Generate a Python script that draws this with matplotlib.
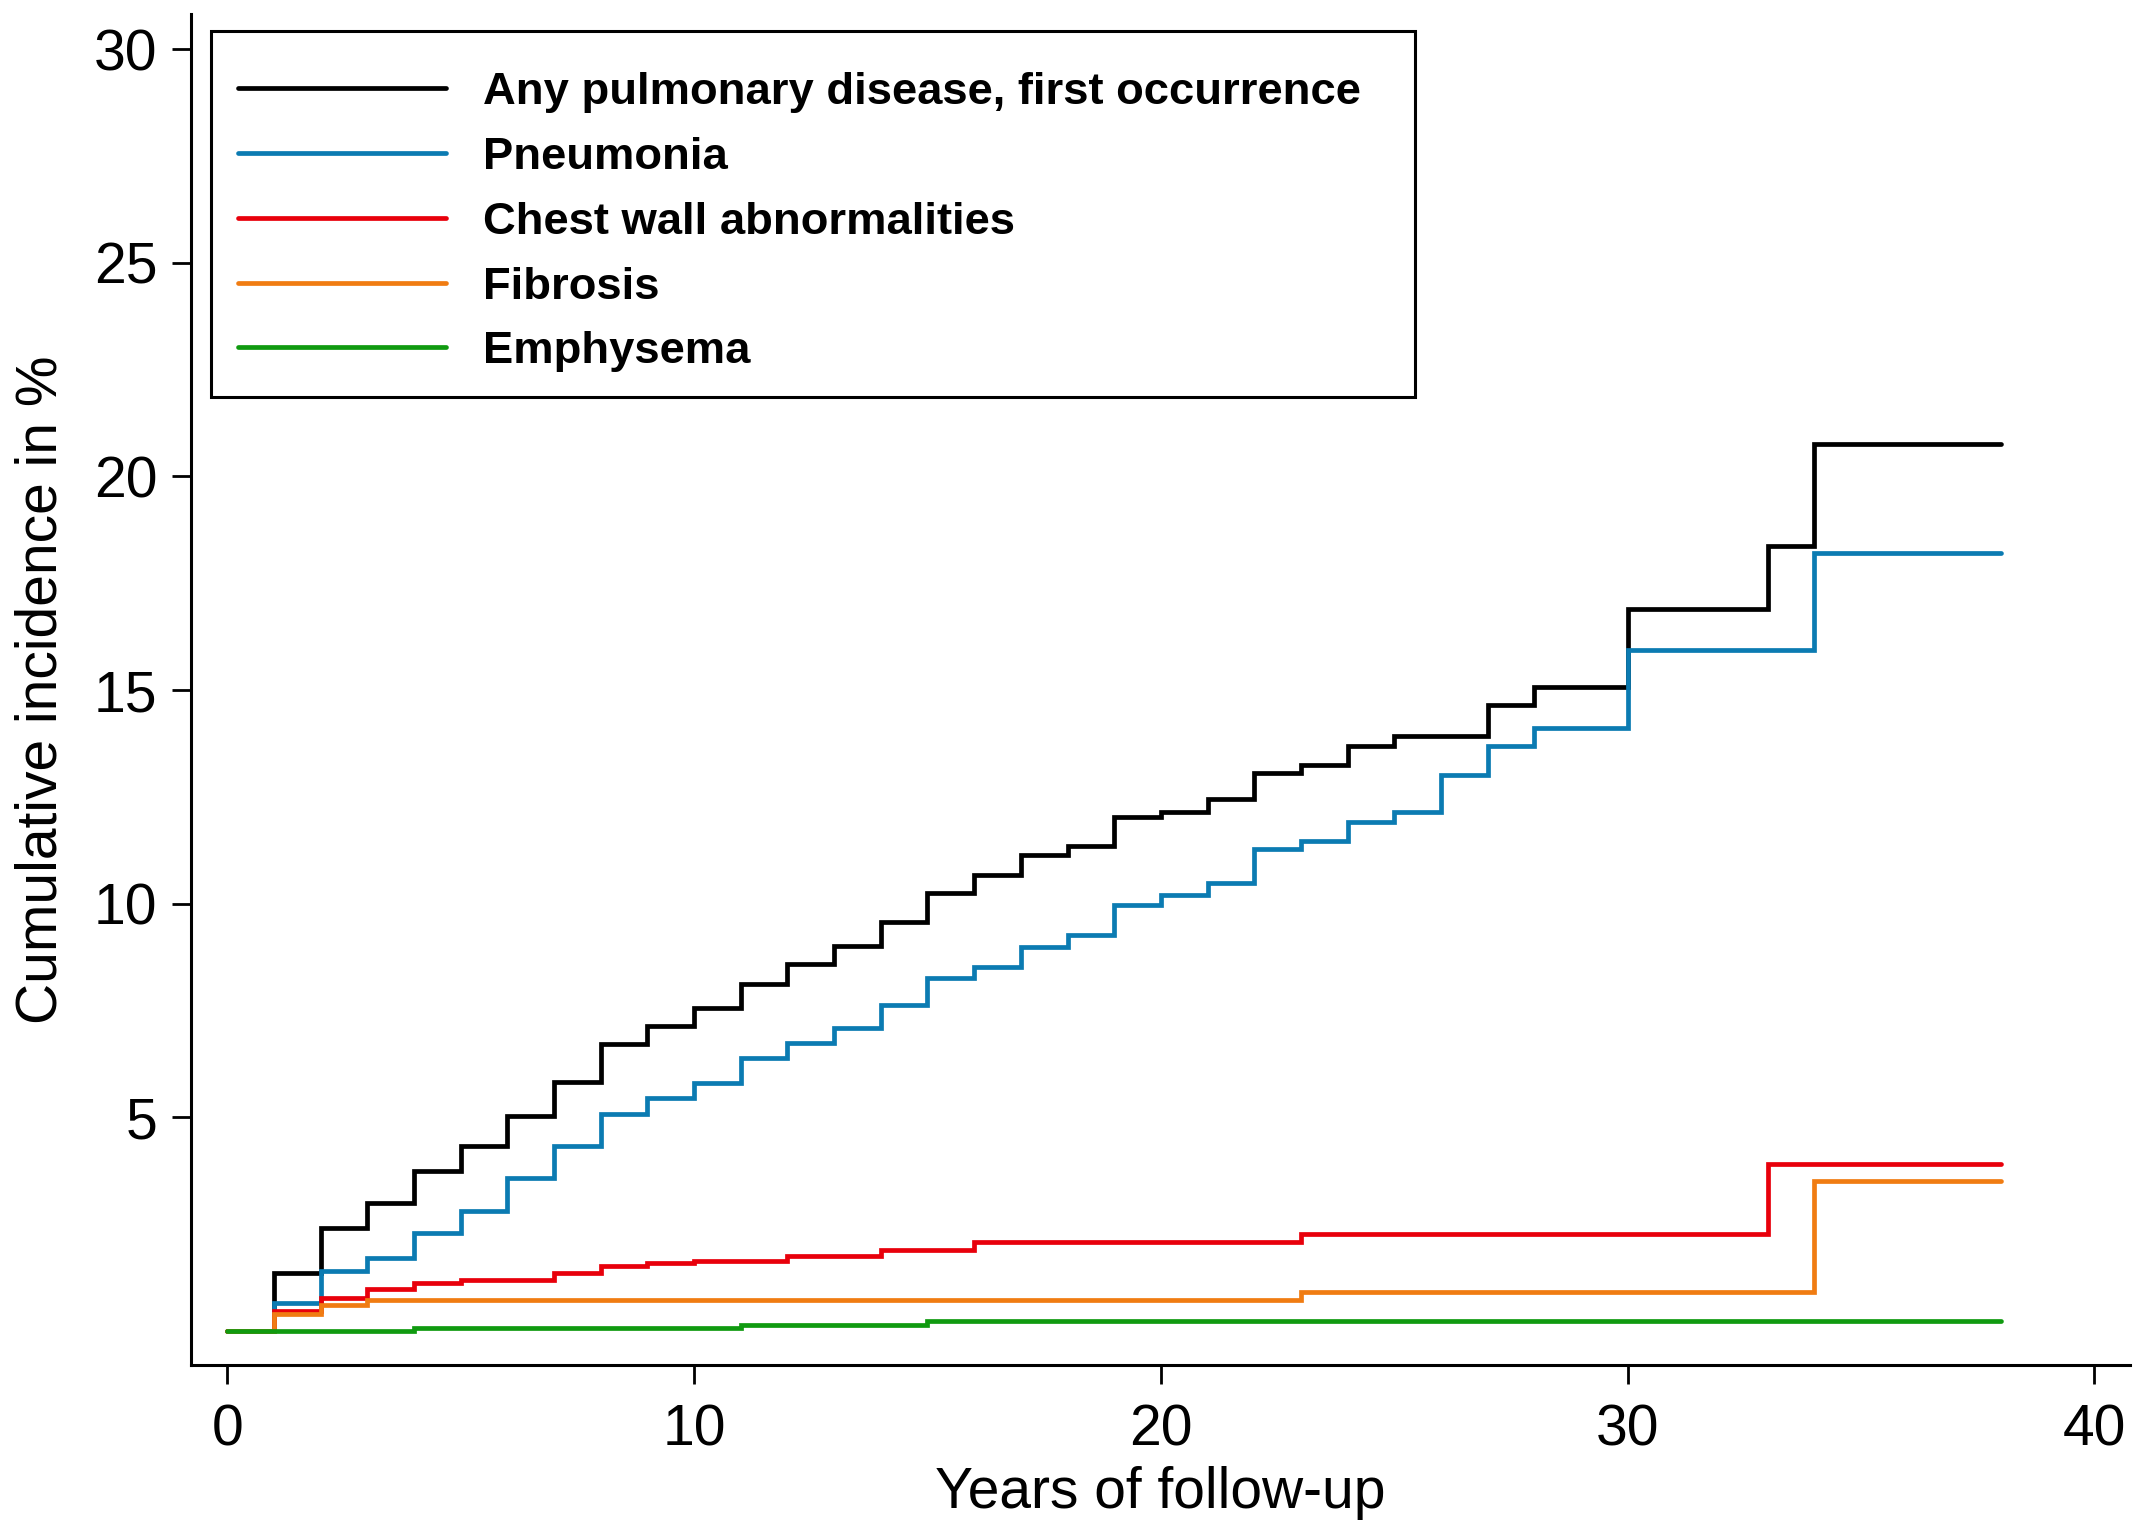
import matplotlib
matplotlib.use("Agg")
import matplotlib.pyplot as plt
from matplotlib.patches import Rectangle

plt.rcParams['font.family'] = ['Liberation Sans', 'DejaVu Sans']

# ---- data (years of follow-up, cumulative incidence in %) ----
any_t = [0, 1, 2, 3, 4, 5, 6, 7, 8, 9, 10, 11, 12, 13, 14, 15, 16, 17, 18, 19, 20,
         21, 22, 23, 24, 25, 27, 28, 30, 33, 34, 38]
any_v = [0, 1.36, 2.41, 3.00, 3.75, 4.32, 5.03, 5.83, 6.71, 7.13, 7.55, 8.11, 8.58,
         9.01, 9.56, 10.26, 10.68, 11.14, 11.34, 12.03, 12.15, 12.44, 13.06, 13.25,
         13.69, 13.92, 14.65, 15.07, 16.89, 18.38, 20.77, 20.77]

pneu_t = [0, 1, 2, 3, 4, 5, 6, 7, 8, 9, 10, 11, 12, 13, 14, 15, 16, 17, 18, 19, 20,
          21, 22, 23, 24, 25, 26, 27, 28, 30, 34, 38]
pneu_v = [0, 0.64, 1.39, 1.71, 2.29, 2.81, 3.58, 4.33, 5.07, 5.46, 5.81, 6.38, 6.73,
          7.10, 7.62, 8.27, 8.51, 8.98, 9.27, 9.97, 10.20, 10.48, 11.28, 11.47, 11.90,
          12.15, 13.02, 13.69, 14.10, 15.93, 18.20, 18.20]

chest_t = [0, 1, 2, 3, 4, 5, 7, 8, 9, 10, 12, 14, 16, 23, 33, 38]
chest_v = [0, 0.47, 0.76, 0.97, 1.13, 1.19, 1.35, 1.52, 1.58, 1.64, 1.76, 1.89, 2.07,
           2.26, 3.90, 3.90]

fib_t = [0, 1, 2, 3, 23, 34, 38]
fib_v = [0, 0.40, 0.61, 0.71, 0.90, 3.51, 3.51]

emph_t = [0, 4, 11, 15, 38]
emph_v = [0, 0.06, 0.13, 0.22, 0.22]

labels = ["Any pulmonary disease, first occurrence", "Pneumonia",
          "Chest wall abnormalities", "Fibrosis", "Emphysema"]
colors = ["#000000", "#0b7bb2", "#e8000b", "#f07c12", "#109a10"]

x_ticks = [0, 10, 20, 30, 40]
y_ticks = [5, 10, 15, 20, 25, 30]

# ---- figure ----
fig = plt.figure(figsize=(21.34, 15.26), dpi=100)
ax = fig.add_axes([0.0893, 0.1055, 0.9087, 0.8855])

series = [(any_t, any_v), (pneu_t, pneu_v), (chest_t, chest_v), (fib_t, fib_v), (emph_t, emph_v)]
handles = []
for (t, v), lab, c in zip(series, labels, colors):
    h, = ax.step(t, v, where='post', color=c, lw=3.4, label=lab,
                 solid_joinstyle='miter', solid_capstyle='round')
    handles.append(h)

ax.set_xlim(-0.79, 40.76)
ax.set_ylim(-0.80, 30.83)
ax.set_xticks(x_ticks)
ax.set_yticks(y_ticks)
ax.set_xticklabels([str(v) for v in x_ticks])
ax.set_yticklabels([str(v) for v in y_ticks])

for s in ['top', 'right']:
    ax.spines[s].set_visible(False)
for s in ['left', 'bottom']:
    ax.spines[s].set_linewidth(2.2)
    ax.spines[s].set_color('black')

ax.tick_params(axis='both', direction='out', length=14, width=2.0, labelsize=41,
               colors='black')
ax.tick_params(axis='y', pad=10)
ax.tick_params(axis='x', pad=14)

ax.set_xlabel("Years of follow-up", fontsize=41, labelpad=6)
ax.set_ylabel("Cumulative incidence in %", fontsize=41, labelpad=18)

# legend box
fig.patches.append(Rectangle((211 / 2134, 1 - 397 / 1526), (1415 - 211) / 2134,
                             (397 - 31) / 1526, transform=fig.transFigure,
                             facecolor='white', edgecolor='black', lw=2.2, zorder=5))
leg = fig.legend(handles=handles, labels=labels, loc='upper left',
                 bbox_to_anchor=(238 / 2134, 1 - 72 / 1526),
                 bbox_transform=fig.transFigure, frameon=False,
                 prop={'weight': 'bold', 'size': 32.7}, handlelength=4.58,
                 handletextpad=0.81, labelspacing=0.525, borderpad=0.0,
                 borderaxespad=0.0)
for line in leg.get_lines():
    line.set_linewidth(3.4)
leg.set_zorder(6)

fig.savefig("out.png", dpi=100)
